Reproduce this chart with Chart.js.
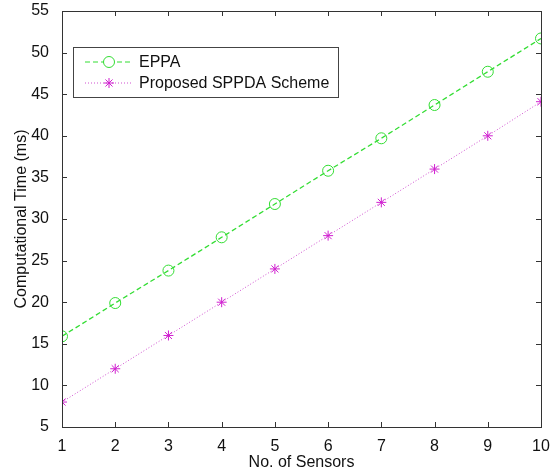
<!DOCTYPE html>
<html>
<head>
<meta charset="utf-8">
<script src="https://cdn.jsdelivr.net/npm/chart.js@4"></script>
<style>
  html, body { margin: 0; padding: 0; background: #fff; }
  #wrap { width: 559px; height: 472px; }
</style>
</head>
<body>
<div id="wrap"><canvas id="chart" width="559" height="472"></canvas></div>
<script>
// data
const sensors = [1, 2, 3, 4, 5, 6, 7, 8, 9, 10];
const eppaTime = [15.9, 19.9, 23.8, 27.8, 31.8, 35.8, 39.7, 43.7, 47.7, 51.7];
const sppdaTime = [8, 12, 16, 20, 24, 28, 32, 36, 40, 44.1];
const yTicks = [5, 10, 15, 20, 25, 30, 35, 40, 45, 50, 55];

const FONT = "'Liberation Sans', Arial, sans-serif";

// box around plot area with inward tick marks on all four sides
const boxPlugin = {
  id: "box",
  afterDraw(chart) {
    const { ctx, chartArea: a, scales } = chart;
    ctx.save();
    ctx.strokeStyle = "#333";
    ctx.lineWidth = 1;
    ctx.strokeRect(a.left + 0.5, a.top + 0.5, a.right - a.left, a.bottom - a.top);
    ctx.beginPath();
    sensors.forEach(v => {
      const x = Math.round(scales.x.getPixelForValue(v)) + 0.5;
      ctx.moveTo(x, a.bottom); ctx.lineTo(x, a.bottom - 5);
      ctx.moveTo(x, a.top); ctx.lineTo(x, a.top + 5);
    });
    yTicks.forEach(v => {
      const y = Math.round(scales.y.getPixelForValue(v)) + 0.5;
      ctx.moveTo(a.left, y); ctx.lineTo(a.left + 5, y);
      ctx.moveTo(a.right, y); ctx.lineTo(a.right - 5, y);
    });
    ctx.stroke();
    ctx.restore();
  }
};

// legend box drawn inside the plot, top left
const legendPlugin = {
  id: "innerLegend",
  afterDraw(chart) {
    const { ctx, chartArea: a } = chart;
    const x0 = a.left + 11, y0 = a.top + 36, w = 265, h = 50;
    ctx.save();
    ctx.fillStyle = "#fff";
    ctx.fillRect(x0, y0, w, h);
    ctx.strokeStyle = "#444";
    ctx.lineWidth = 1;
    ctx.strokeRect(x0 + 0.5, y0 + 0.5, w, h);
    chart.data.datasets.forEach((ds, i) => {
      const y = y0 + 15 + i * 21;
      ctx.strokeStyle = ds.borderColor;
      ctx.lineWidth = 1;
      ctx.setLineDash(ds.borderDash);
      ctx.beginPath();
      ctx.moveTo(x0 + 12, y); ctx.lineTo(x0 + 60, y);
      ctx.stroke();
      ctx.setLineDash([]);
      ctx.strokeStyle = ds.pointBorderColor;
      Chart.helpers.drawPoint(ctx, {
        pointStyle: ds.pointStyle, radius: ds.pointRadius, rotation: 0, borderWidth: 1
      }, x0 + 36, y);
      ctx.fillStyle = "#111";
      ctx.font = "16px " + FONT;
      ctx.textBaseline = "middle";
      ctx.fillText(ds.label, x0 + 66, y + 1);
    });
    ctx.restore();
  }
};

new Chart(document.getElementById("chart"), {
  type: "line",
  data: {
    labels: sensors,
    datasets: [
      {
        label: "EPPA",
        data: eppaTime.map((v, i) => ({ x: sensors[i], y: v })),
        borderColor: "#33dd33",
        backgroundColor: "transparent",
        borderWidth: 1.3,
        borderDash: [5, 3],
        pointStyle: "circle",
        pointRadius: 5.5,
        pointBorderWidth: 1,
        pointBackgroundColor: "transparent",
        pointBorderColor: "#33dd33"
      },
      {
        label: "Proposed SPPDA Scheme",
        data: sppdaTime.map((v, i) => ({ x: sensors[i], y: v })),
        borderColor: "#d050d0",
        backgroundColor: "transparent",
        borderWidth: 1,
        borderDash: [1, 2],
        pointStyle: "star",
        pointRadius: 5,
        pointBorderWidth: 1,
        pointBackgroundColor: "transparent",
        pointBorderColor: "#d020d0"
      }
    ]
  },
  options: {
    responsive: false,
    animation: false,
    layout: { padding: { top: 11, right: 18, left: 0, bottom: 0 } },
    plugins: { legend: { display: false }, tooltip: { enabled: false } },
    scales: {
      x: {
        type: "linear",
        min: 1, max: 10,
        afterBuildTicks: s => { s.ticks = sensors.map(v => ({ value: v })); },
        afterFit: s => { s.height = 45; s.paddingLeft = 0; s.paddingRight = 0; },
        grid: { display: false },
        border: { display: false },
        ticks: { color: "#111", font: { family: FONT, size: 16 }, padding: 2, maxRotation: 0 },
        title: { display: true, text: "No. of Sensors", color: "#111", font: { family: FONT, size: 16 }, padding: { top: 0, bottom: 0 } }
      },
      y: {
        min: 5, max: 55,
        afterBuildTicks: s => { s.ticks = yTicks.map(v => ({ value: v })); },
        afterFit: s => { s.width = 62; s.paddingTop = 0; s.paddingBottom = 0; },
        grid: { display: false },
        border: { display: false },
        ticks: { color: "#111", font: { family: FONT, size: 16 }, padding: 5 },
        title: { display: true, text: "Computational Time (ms)", color: "#111", font: { family: FONT, size: 16 }, padding: { top: 12, bottom: 0 } }
      }
    }
  },
  plugins: [boxPlugin, legendPlugin]
});
</script>
</body>
</html>
